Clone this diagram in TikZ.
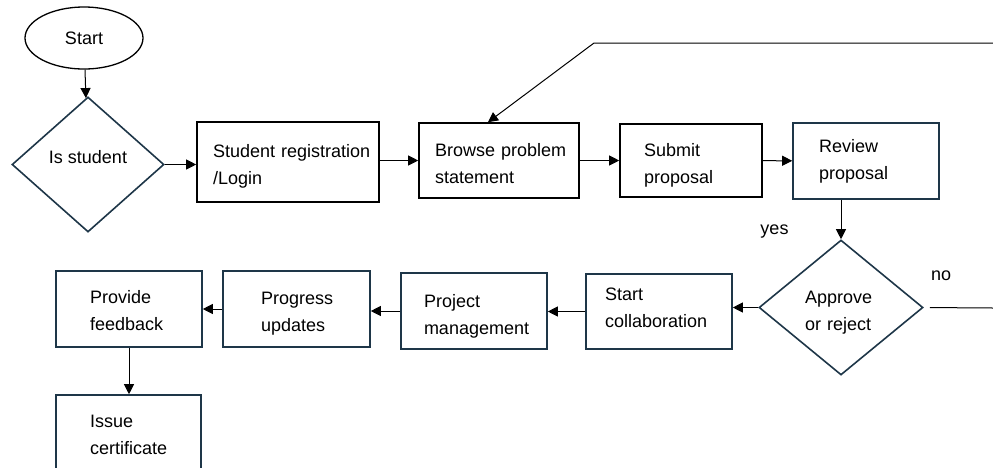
\documentclass[tikz,border=0pt]{standalone}
\usepackage{fontspec}
\usepackage{tikz}
\usetikzlibrary{shapes.geometric}
\usetikzlibrary{arrows.meta}

\newfontfamily\flowfamily{Liberation Sans}
\definecolor{slate}{RGB}{30,54,72}
\hyphenpenalty=10000

\tikzset{
  flowtext/.style={font=\flowfamily\fontsize{18}{27}\selectfont},
  box/.style={draw=slate, line width=1.6pt, flowtext, align=left, inner ysep=0pt, minimum height=76pt},
  query/.style={diamond, draw=slate, line width=1.6pt, flowtext, align=center, inner sep=0pt},
  terminal/.style={ellipse, draw, line width=1.3pt, flowtext, inner sep=0pt, minimum width=118pt, minimum height=62pt},
  tag/.style={flowtext, inner sep=0pt},
  conn/.style={line width=1pt, -{Triangle[length=10pt,width=10pt]}}
}

\begin{document}
\begin{tikzpicture}[x=1pt,y=-1pt]
  \useasboundingbox (0,0) rectangle (993,467);

  \node[terminal] (start) at (84,38) {Start};
  \node[query, minimum width=152pt, minimum height=135pt, text depth=16pt] (isstudent) at (88,164.5) {Is student};
  \node[box, draw=black, text width=150pt, inner xsep=16pt, minimum height=80pt, text height=21.3pt] (register) at (288,162) {Student~registration\\/Login};
  \node[box, draw=black, text width=128pt, inner xsep=16pt, minimum height=75pt, text height=19.3pt] (browse) at (499,160.5) {Browse~problem\\statement};
  \node[box, draw=black, text width=94pt, inner xsep=24pt, minimum height=73pt, text height=23.3pt] (submit) at (691,160.5) {Submit\\proposal};
  \node[box, text width=94pt, inner xsep=26pt] (review) at (866,161) {Review\\proposal};

  \node[query, minimum width=164pt, minimum height=135pt, align=left, text width=72pt, text height=23.1pt] (approve) at (841,307.5) {Approve\\or~reject};
  \node[box, text width=108pt, inner xsep=19pt, minimum height=75pt, text height=5.3pt] (collab) at (659,311.5) {Start\\collaboration};
  \node[box, text width=100pt, inner xsep=23pt, text height=23.3pt] (manage) at (474,311) {Project\\management};
  \node[box, text width=71pt, inner xsep=38pt, text height=22pt] (progress) at (296.5,309) {Progress\\updates};
  \node[box, text width=78pt, inner xsep=34pt, text height=16pt] (feedback) at (129,309) {Provide\\feedback};
  \node[box, text width=77pt, inner xsep=34pt, text height=16pt] (certificate) at (128.5,433) {Issue\\certificate};

  \coordinate (backin) at (993,43);
  \coordinate (backbend) at (594,43);
  \coordinate (noout) at (993,308);

  \path[conn]
    (start) edge (isstudent)
    (isstudent.east) edge (isstudent.east -| register.west)
    (browse.west -| register.east) edge (browse.west)
    (browse) edge (submit)
    (submit) edge (review)
    (review.south -| approve.north) edge node[pos=0.8, left=52pt, tag] {yes} (approve.north)
    (approve.west) edge (approve.west -| collab.east)
    (collab.west) edge (collab.west -| manage.east)
    (manage.west) edge (manage.west -| progress.east)
    (progress.west) edge (progress.west -| feedback.east)
    (feedback.south) edge (feedback.south |- certificate.north);

  \draw[conn] (backin) -- (backbend) -- ([xshift=-11pt]browse.north);
  \draw[line width=1pt, shorten <=6pt] (approve.east) -- node[pos=0.25, above=26pt, tag] {no} (noout);
\end{tikzpicture}
\end{document}
